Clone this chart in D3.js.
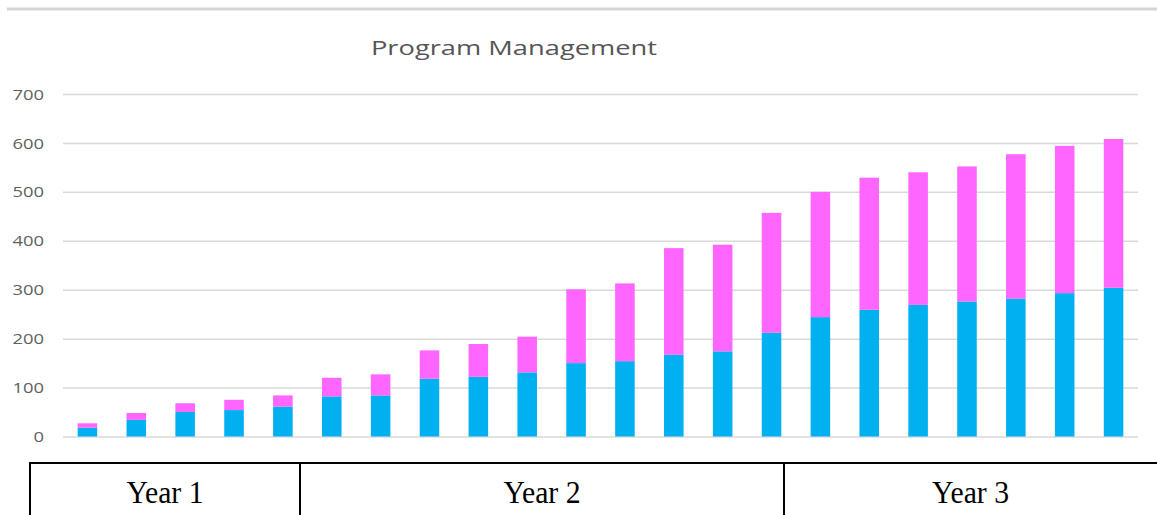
<!DOCTYPE html>
<html>
<head>
<meta charset="utf-8">
<script src="https://cdn.jsdelivr.net/npm/d3@7"></script>
<style>
  html, body { margin: 0; padding: 0; background: #ffffff; }
  svg { display: block; }
</style>
</head>
<body>
<div id="chart"></div>
<script>
// ---------- DATA ----------
const categories = ["P1","P2","P3","P4","P5","P6","P7","P8","P9","P10","P11",
                    "P12","P13","P14","P15","P16","P17","P18","P19","P20","P21","P22"];
const blueValues = [18, 34, 50, 54, 61, 82, 84, 118, 122, 131, 150,
                    154, 167, 174, 212, 244, 259, 269, 276, 282, 293, 304];
const pinkValues = [9, 14, 18, 21, 23, 38, 43, 58, 67, 73, 151,
                    159, 218, 218, 245, 256, 270, 271, 276, 295, 301, 304];
const yTicks = [0, 100, 200, 300, 400, 500, 600, 700];
const yearLabels = ["Year 1", "Year 2", "Year 3"];
const chartTitle = "Program Management";

// ---------- LAYOUT ----------
const W = 1157, H = 515;
const plot = { left: 63, right: 1138, top: 94, bottom: 436.5 };
const tableEdges = [30, 300, 784, 1157];
const tableTop = 463;
const colors = { blue: "#00B0F0", pink: "#FF66FF", grid: "#d9d9d9", axisText: "#5f5f5f", title: "#555555" };

const svg = d3.select("#chart").append("svg").attr("width", W).attr("height", H);

// stretch helper: the reference text is horizontally widened
function stretch(sel, factor) {
  sel.each(function () {
    const len = this.getComputedTextLength();
    d3.select(this).attr("textLength", len * factor).attr("lengthAdjust", "spacingAndGlyphs");
  });
}

// top border line
svg.append("line")
  .attr("x1", 7).attr("x2", W).attr("y1", 9).attr("y2", 9)
  .attr("stroke", "#d4d4d4").attr("stroke-width", 3);

// scales
const x = d3.scaleBand().domain(categories).range([plot.left, plot.right])
  .paddingInner(0.6).paddingOuter(0.3);
const y = d3.scaleLinear().domain([0, 700]).range([plot.bottom, plot.top]);

// gridlines via axis
const yAxis = d3.axisLeft(y).tickValues(yTicks).tickSize(-(plot.right - plot.left)).tickFormat(d3.format("d"));
const gAxis = svg.append("g").attr("transform", `translate(${plot.left},0)`).call(yAxis);
gAxis.select(".domain").remove();
gAxis.selectAll(".tick line").attr("stroke", colors.grid).attr("stroke-width", 1.5);
gAxis.selectAll(".tick text")
  .attr("x", -19).attr("dy", "0.35em")
  .attr("fill", colors.axisText)
  .style("font-family", "'Open Sans', sans-serif").style("font-size", "14.5px");
stretch(gAxis.selectAll(".tick text"), 1.27);

// stacked bars
const rows = categories.map((c, i) => ({ cat: c, blue: blueValues[i], pink: pinkValues[i] }));
const stack = d3.stack().keys(["blue", "pink"])(rows);
svg.append("g").selectAll("g").data(stack).join("g")
  .attr("fill", d => colors[d.key])
  .selectAll("rect").data(d => d).join("rect")
  .attr("x", d => x(d.data.cat))
  .attr("width", x.bandwidth())
  .attr("y", d => y(d[1]))
  .attr("height", d => y(d[0]) - y(d[1]));

// title
const title = svg.append("text")
  .attr("x", 514).attr("y", 55)
  .attr("text-anchor", "middle")
  .attr("fill", colors.title)
  .style("font-family", "'Open Sans', sans-serif").style("font-size", "20.5px")
  .text(chartTitle);
stretch(title, 1.33);

// year table
const tbl = svg.append("g");
tbl.append("line").attr("x1", tableEdges[0] - 1).attr("x2", W)
  .attr("y1", tableTop).attr("y2", tableTop)
  .attr("stroke", "#000").attr("stroke-width", 2);
tbl.selectAll("line.v").data(tableEdges.slice(0, 3)).join("line")
  .attr("class", "v")
  .attr("x1", d => d).attr("x2", d => d)
  .attr("y1", tableTop).attr("y2", H)
  .attr("stroke", "#000").attr("stroke-width", 2);
const yearText = tbl.selectAll("text").data(yearLabels).join("text")
  .attr("x", (d, i) => (tableEdges[i] + tableEdges[i + 1]) / 2)
  .attr("y", 503)
  .attr("text-anchor", "middle")
  .attr("fill", "#000")
  .style("font-family", "'Liberation Serif', 'Times New Roman', serif")
  .style("font-size", "32px")
  .text(d => d);
stretch(yearText, 0.93);
</script>
</body>
</html>
